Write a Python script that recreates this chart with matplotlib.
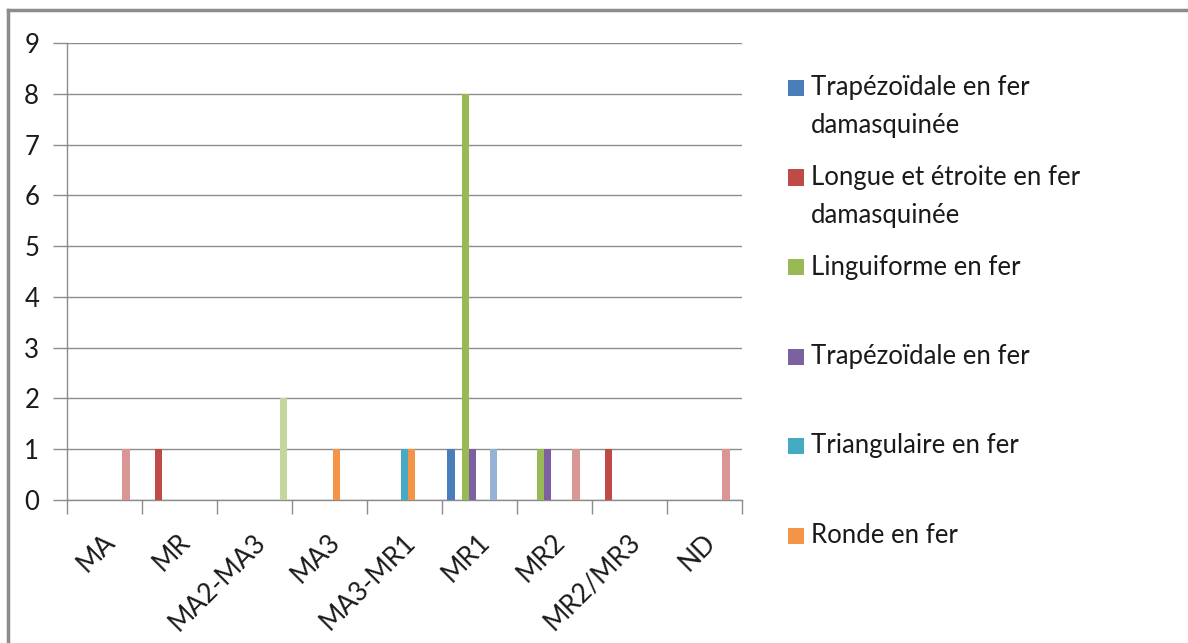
import matplotlib
matplotlib.use("Agg")
import matplotlib.pyplot as plt
import matplotlib.transforms as mtransforms
from matplotlib.lines import Line2D
from matplotlib.patches import Rectangle
import numpy as np

plt.rcParams['font.family'] = ['Lato', 'DejaVu Sans']

categories = ["MA", "MR", "MA2-MA3", "MA3", "MA3-MR1", "MR1", "MR2", "MR2/MR3", "ND"]

# one list per series, in the category order above
trap_dam = [0, 0, 0, 0, 0, 1, 0, 0, 0]
longue_dam = [0, 1, 0, 0, 0, 0, 0, 1, 0]
linguiforme = [0, 0, 0, 0, 0, 8, 1, 0, 0]
trap_fer = [0, 0, 0, 0, 0, 1, 1, 0, 0]
triang_fer = [0, 0, 0, 0, 1, 0, 0, 0, 0]
ronde_fer = [0, 0, 0, 1, 1, 0, 0, 0, 0]
serie_7 = [0, 0, 0, 0, 0, 1, 0, 0, 0]
serie_8 = [1, 0, 0, 0, 0, 0, 1, 0, 1]
serie_9 = [0, 0, 2, 0, 0, 0, 0, 0, 0]

series = [trap_dam, longue_dam, linguiforme, trap_fer, triang_fer, ronde_fer,
          serie_7, serie_8, serie_9]
# legend in the original is cut after the 6th entry
legend_labels = ["Trapézoïdale en fer\ndamasquinée",
                 "Longue et étroite en fer\ndamasquinée",
                 "Linguiforme en fer",
                 "Trapézoïdale en fer",
                 "Triangulaire en fer",
                 "Ronde en fer"]
colors = ["#4A7EBB", "#BE4B48", "#98B954", "#7D60A0", "#46AAC5", "#F39447",
          "#95B3D7", "#D99694", "#C3D69B"]

W, H = 1188, 643
fig = plt.figure(figsize=(W / 100, H / 100), dpi=100)
ax = fig.add_axes([67 / W, 1 - 500 / H, (742 - 67) / W, (500 - 43) / H])

n = len(series)
gap = 1.5
bw = 1.0 / (n + gap)
x = np.arange(len(categories))
for i, vals in enumerate(series):
    ax.bar(x - (n * bw) / 2 + bw * (i + 0.5), vals, width=bw, color=colors[i], zorder=3)

ax.set_xlim(-0.5, len(categories) - 0.5)
ax.set_ylim(0, 9)
ax.set_yticks(range(0, 10))
ax.yaxis.grid(True, color="#8c8c8c", linewidth=1.0, zorder=0)
ax.tick_params(axis='y', length=10, width=1, color="#8c8c8c", pad=10, labelsize=18.5,
               labelcolor="#1a1a1a")

ax.set_xticks(np.arange(len(categories) + 1) - 0.5)
ax.set_xticklabels([])
ax.tick_params(axis='x', which='major', length=10, width=1, color="#8c8c8c", direction='out')
ax.set_xticks(x, minor=True)
ax.set_xticklabels(categories, minor=True, rotation=45, ha='right', va='top',
                   rotation_mode='anchor', fontsize=19, color="#1a1a1a")
ax.tick_params(axis='x', which='minor', length=0, pad=21)
shift = mtransforms.ScaledTranslation(-2 / 100, 0, fig.dpi_scale_trans)
for lbl in ax.get_xticklabels(minor=True):
    lbl.set_transform(lbl.get_transform() + shift)

for s in ["top", "right"]:
    ax.spines[s].set_visible(False)
for s in ["left", "bottom"]:
    ax.spines[s].set_color("#8c8c8c")
    ax.spines[s].set_linewidth(1.0)

# legend drawn by hand to keep Excel's fixed slot spacing
for i, lab in enumerate(legend_labels):
    yc = 88 + i * 89.5
    fig.patches.append(Rectangle((788 / W, 1 - (yc + 8) / H), 16 / W, 16 / H,
                                 transform=fig.transFigure, facecolor=colors[i],
                                 edgecolor='none'))
    for k, line in enumerate(lab.split("\n")):
        fig.text(811 / W, 1 - (yc + k * 38) / H, line, fontsize=18.5, va='center',
                 ha='left', color="#1a1a1a")

# chart frame (only left and top edges visible in the crop)
fig.add_artist(Line2D([8 / W, 8 / W], [0, 1 - 10 / H], transform=fig.transFigure,
                      color="#8c8c8c", linewidth=2.5))
fig.add_artist(Line2D([8 / W, 1], [1 - 10 / H, 1 - 10 / H], transform=fig.transFigure,
                      color="#8c8c8c", linewidth=2.5))

fig.savefig("out.png", dpi=100)
